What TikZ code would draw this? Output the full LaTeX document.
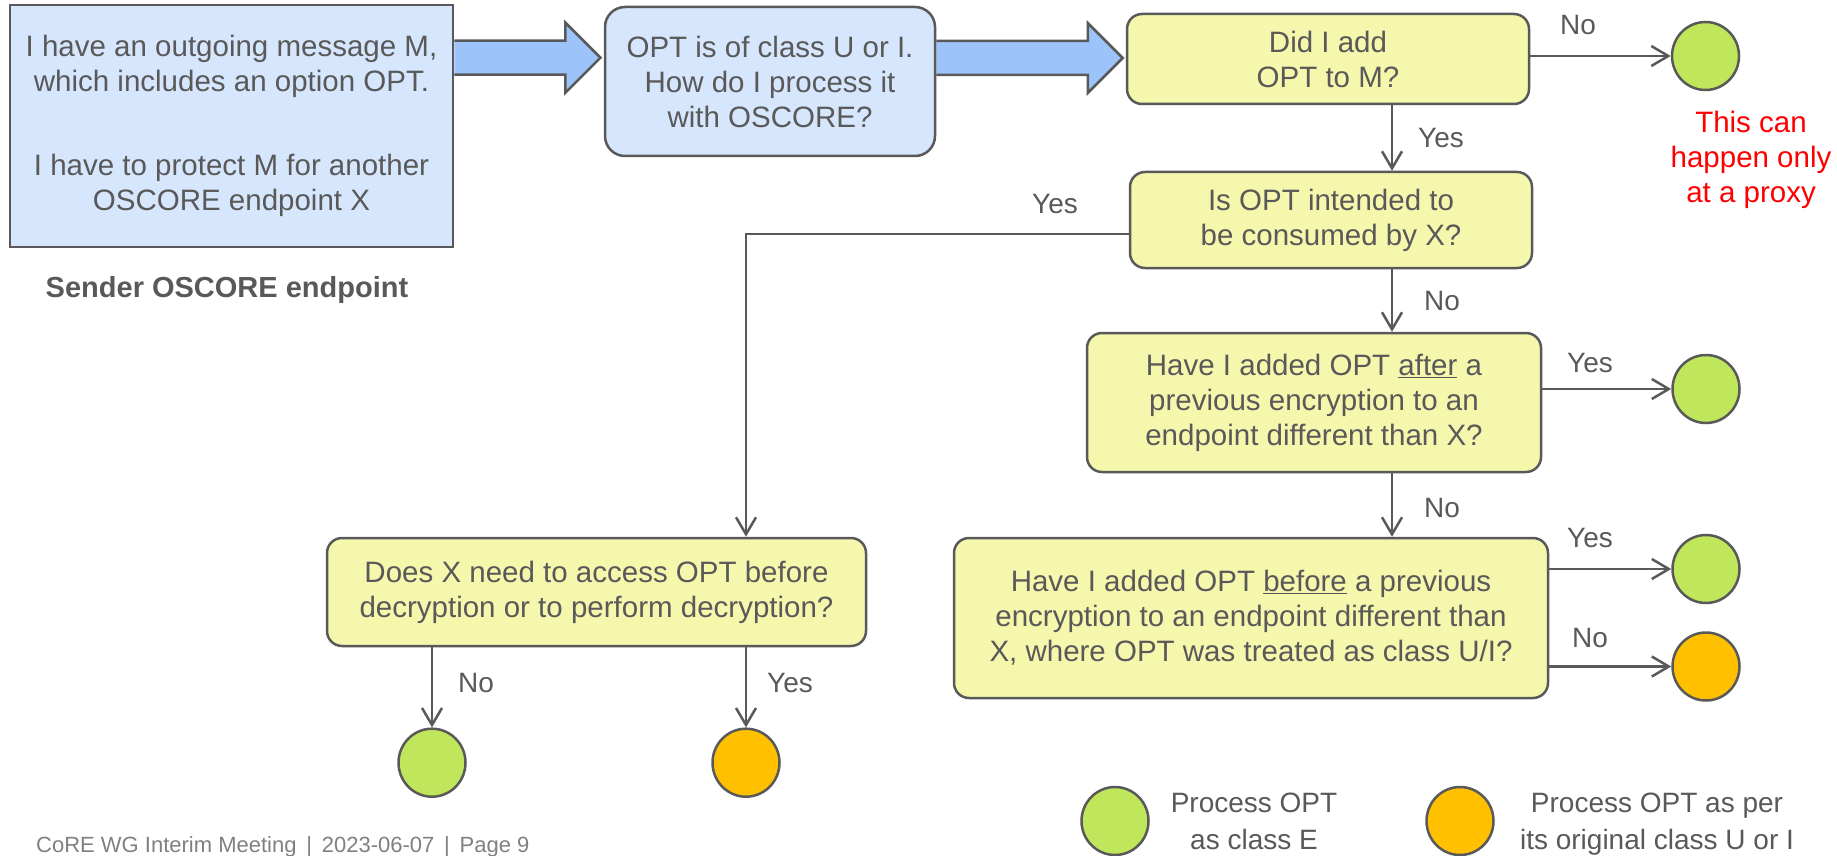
\documentclass[tikz,border=0pt]{standalone}
\usepackage{fontspec}
\setmainfont{Liberation Sans}
\usetikzlibrary{arrows.meta,shapes.geometric,calc,backgrounds}

\definecolor{ink}{HTML}{595959}
\definecolor{footgray}{HTML}{808080}
\definecolor{bluefill}{HTML}{D6E6FC}
\definecolor{arrowfill}{HTML}{9CC4FA}
\definecolor{yellowfill}{HTML}{F5F7AD}
\definecolor{greenfill}{HTML}{C0E75C}
\definecolor{orangefill}{HTML}{FFC000}
\definecolor{alert}{HTML}{FF0000}

\begin{document}
\begin{tikzpicture}[x=1pt,y=-1pt,
  txt/.style={font=\fontsize{29.5}{35}\selectfont, text=ink},
  box/.style={draw=ink, line width=2.5pt, align=center, inner sep=0pt, txt},
  bluebox/.style={box, fill=bluefill},
  qbox/.style={box, fill=yellowfill, rounded corners=15pt},
  dot/.style={ellipse, draw=ink, line width=2.5pt, minimum width=67pt,
              minimum height=68pt, inner sep=0pt},
  gdot/.style={dot, fill=greenfill},
  odot/.style={dot, fill=orangefill},
  flow/.style={draw=ink, line width=2.5pt,
               -{Straight Barb[length=17pt,width=20pt]}},
  lbl/.style={anchor=base, inner sep=0pt, text=ink,
              font=\fontsize{28}{34}\selectfont},
  bigarrow/.style={draw=ink, line width=2.5pt, fill=arrowfill,
                   line join=miter},
]
\useasboundingbox (0,0) rectangle (1837,856);

% ---- starting situation -------------------------------------------------
\node[bluebox, minimum width=443pt, minimum height=242pt] (b1) at (231.5,126)
  {I have an outgoing message M,\\which includes an option OPT.\\[49pt]
   I have to protect M for another\\OSCORE endpoint X};
\node[anchor=base, inner sep=0pt, text=ink,
      font=\fontsize{29}{34}\selectfont\bfseries] (sender) at (227,297)
  {Sender OSCORE endpoint};

\node[bluebox, rounded corners=20pt, minimum width=330pt, minimum height=149pt]
  (b2) at (770,81.5)
  {OPT is of class U or I.\\How do I process it\\with OSCORE?};

% ---- decisions ------------------------------------------------------------
\node[qbox, minimum width=402pt, minimum height=90pt] (b3) at (1328,59)
  {Did I add\\OPT to M?};
\node[qbox, minimum width=402pt, minimum height=96pt] (b4) at (1331,220)
  {Is OPT intended to\\be consumed by X?};
\node[qbox, minimum width=454pt, minimum height=139pt] (b6) at (1314,402.5)
  {Have I added OPT \underline{after} a\\previous encryption to an\\endpoint different than X?};
\node[qbox, minimum width=594pt, minimum height=160pt] (b7) at (1251,618)
  {Have I added OPT \underline{before} a previous\\encryption to an endpoint different than\\X, where OPT was treated as class U/I?};
\node[qbox, minimum width=539pt, minimum height=108pt] (b5) at (596.5,592)
  {Does X need to access OPT before\\decryption or to perform decryption?};

% ---- outcomes -------------------------------------------------------------
\node[gdot] (c1) at (1705.5,56) {};
\node[gdot] (c2) at (1706,389) {};
\node[gdot] (c3) at (1706,569) {};
\node[odot] (c4) at (1706,666.5) {};
\node[gdot] (c5) at (432,762.7) {};
\node[odot] (c6) at (746,762.7) {};

\node[txt, text=alert, align=center, inner sep=0pt] (proxy) at (1751,159.5)
  {This can\\happen only\\at a proxy};

% ---- legend ---------------------------------------------------------------
\node[gdot] (lg) at (1115,821) {};
\node[txt, align=center, inner sep=0pt, font=\fontsize{28}{37}\selectfont]
  (lgt) at (1254,821) {Process OPT\\as class E};
\node[odot] (lo) at (1460,821) {};
\node[txt, align=center, inner sep=0pt, font=\fontsize{28}{37}\selectfont]
  (lot) at (1657,824) {Process OPT as per\\its original class U or I};

% ---- block arrows between the first steps -----------------------------------
\coordinate (t1) at ($(b2.west)+(-3.3,-23.8)$);
\coordinate (s1) at (b1.east |- t1);
\coordinate (t2) at ($(b3.west)+(-3,-1)$);
\coordinate (s2) at (b2.east |- t2);
\begin{scope}[on background layer]
  \draw[bigarrow] ($(s1)+(0,-17)$) -- ($(t1)+(-35,-17)$) -- ($(t1)+(-35,-35)$)
    -- (t1) -- ($(t1)+(-35,35)$) -- ($(t1)+(-35,17)$) -- ($(s1)+(0,17)$);
  \draw[bigarrow] ($(s2)+(0,-17)$) -- ($(t2)+(-35,-17)$) -- ($(t2)+(-35,-35)$)
    -- (t2) -- ($(t2)+(-35,35)$) -- ($(t2)+(-35,17)$) -- ($(s2)+(0,17)$);
\end{scope}

% ---- connectors -------------------------------------------------------------
\coordinate (spine) at (1392,0);
\draw[flow] (b3.east |- c1) -- (c1.west);
\draw[flow] (b3.south -| spine) -- (b4.north -| spine);
\draw[flow] ($(b4.west)+(0,14)$) -| (b5.north -| c6);
\draw[flow] (b4.south -| spine) -- (b6.north -| spine);
\draw[flow] (b6.east |- c2) -- (c2.west);
\draw[flow] (b6.south -| spine) -- (b7.north -| spine);
\draw[flow] (b7.east |- c3) -- (c3.west);
\draw[flow] (b7.east |- c4) -- (c4.west);
\draw[flow] (b5.south -| c5) -- (c5.north);
\draw[flow] (b5.south -| c6) -- (c6.north);

% ---- branch labels ----------------------------------------------------------
\node[lbl] (l1) at (1578,35) {No};
\node[lbl] (l2) at (1441,148) {Yes};
\node[lbl] (l3) at (1055,213) {Yes};
\node[lbl] (l4) at (1442,310) {No};
\node[lbl] (l5) at (1590,372) {Yes};
\node[lbl] (l6) at (1442,517) {No};
\node[lbl] (l7) at (1590,547) {Yes};
\node[lbl] (l8) at (1590,647) {No};
\node[lbl] (l9) at (476,692) {No};
\node[lbl] (l10) at (790,692) {Yes};

% ---- footer -------------------------------------------------------------------
\node[anchor=base west, inner sep=0pt, text=footgray,
      font=\fontsize{22}{26}\selectfont] (foot) at (36,852)
  {CoRE WG Interim Meeting~\,|~\,2023-06-07~\,|~\,Page 9};
\end{tikzpicture}
\end{document}
